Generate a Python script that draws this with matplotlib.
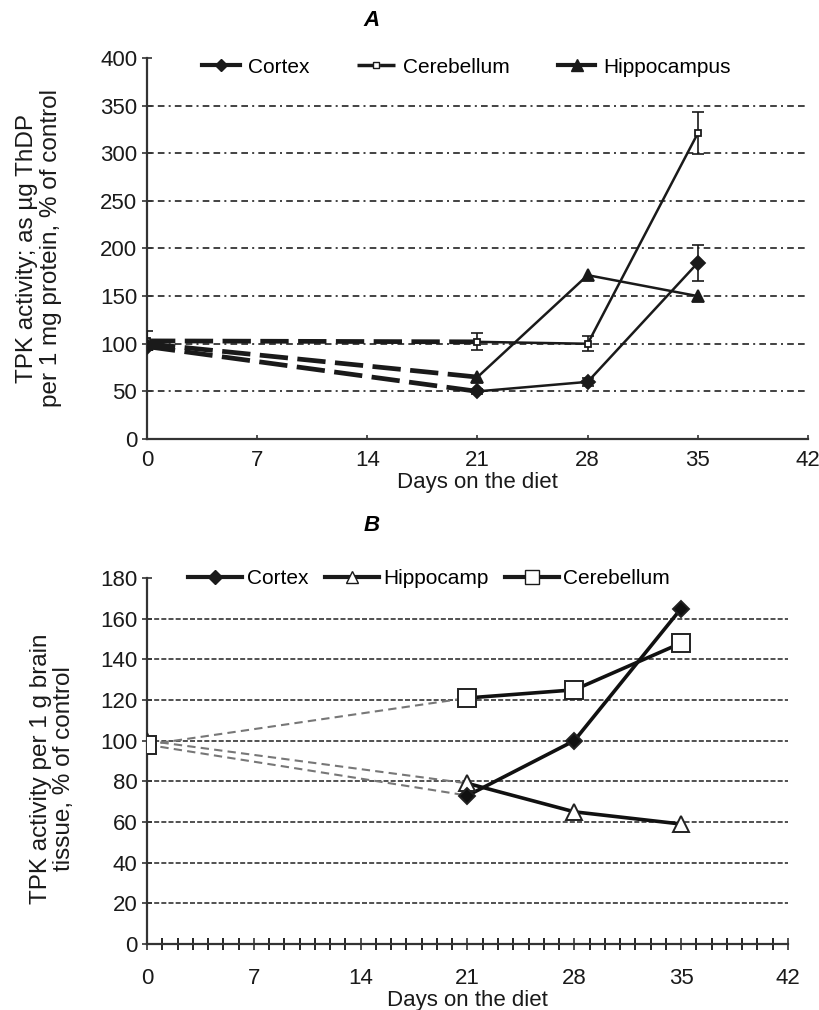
import matplotlib
matplotlib.use("Agg")
import matplotlib.pyplot as plt
from matplotlib.lines import Line2D
from matplotlib.ticker import MultipleLocator

plt.rcParams["font.family"] = ["Liberation Sans", "DejaVu Sans"]

DAYS = [0, 21, 28, 35]

# panel A: TPK activity per mg protein, % of control
A_CORTEX = [97, 50, 60, 185]
A_CORTEX_ERR = [4, 3, 4, 19]
A_CEREB = [103, 102, 100, 321]
A_CEREB_ERR = [10, 9, 8, 22]
A_HIPPO = [100, 65, 172, 150]

# panel B: TPK activity per g brain tissue, % of control
B_CORTEX = [98, 73, 100, 165]
B_HIPPO = [100, 79, 65, 59]
B_CEREB = [98, 121, 125, 148]

X_TICKS = [0, 7, 14, 21, 28, 35, 42]
INK = "#1a1a1a"

fig = plt.figure(figsize=(8.2, 10.1), dpi=100)
axA = fig.add_axes([147 / 820, 1 - 439 / 1010, (808 - 147) / 820, (439 - 58) / 1010])
axB = fig.add_axes([147 / 820, 1 - 944 / 1010, (788 - 147) / 820, (944 - 578) / 1010])


def style_axes(ax, ymax, ystep, grid_dash, grid_color, xpad, lpad):
    ax.set_xlim(0, 42)
    ax.set_ylim(0, ymax)
    ax.set_xticks(X_TICKS)
    ax.set_yticks(range(0, ymax + 1, ystep))
    for s in ("top", "right"):
        ax.spines[s].set_visible(False)
    for s in ("left", "bottom"):
        ax.spines[s].set_color("#333333")
        ax.spines[s].set_linewidth(1.6)
    for y in range(ystep, ymax, ystep):
        ax.axhline(y, color=grid_color, lw=1.2, dashes=grid_dash, zorder=0)
    ax.tick_params(labelsize=16, colors="#333333", labelcolor=INK, width=1.2)
    ax.tick_params(axis="x", pad=xpad)
    ax.set_xlabel("Days on the diet", fontsize=16, labelpad=lpad, color=INK)


def two_part(ax, y, err, marker, ms, mfc, early, late):
    ax.plot(DAYS[:2], y[:2], color=INK, zorder=3, **early)
    ax.plot(DAYS[1:], y[1:], color=INK, zorder=3, **late)
    if err is not None:
        ax.errorbar(DAYS, y, yerr=err, fmt="none", ecolor=INK, elinewidth=1.2,
                    capsize=4, capthick=1.2, zorder=4)
    ax.plot(DAYS, y, ls="none", marker=marker, ms=ms, mfc=mfc, mec=INK,
            mew=1.3, zorder=5)


# ---- panel A
style_axes(axA, 400, 50, (4, 2.5, 4, 2.5, 1.2, 2.5), "#222222", 8, 1)
axA.tick_params(axis="x", direction="in", length=3)
axA.tick_params(axis="y", direction="inout", length=7)
earlyA = dict(lw=3.4, dashes=(6, 2.0))
lateA = dict(lw=1.8)
two_part(axA, A_CEREB, A_CEREB_ERR, "s", 5, "white", earlyA, lateA)
two_part(axA, A_CORTEX, A_CORTEX_ERR, "D", 7, INK, earlyA, lateA)
two_part(axA, A_HIPPO, None, "^", 8, INK, earlyA, lateA)
axA.set_ylabel("TPK activity; as µg ThDP\nper 1 mg protein, % of control",
               fontsize=17.5, color=INK, linespacing=1.15)
axA.yaxis.set_label_coords(-0.128, 0.5)
axA.set_title("A", fontsize=16, fontweight="bold", style="italic", pad=23, x=0.34)
handlesA = [
    Line2D([], [], color=INK, lw=3, marker="D", ms=6, mfc=INK, mec=INK),
    Line2D([], [], color=INK, lw=2.5, dashes=(5, 1.5), marker="s", ms=5, mfc="white", mec=INK),
    Line2D([], [], color=INK, lw=3, marker="^", ms=8, mfc=INK, mec=INK),
]
axA.legend(handlesA, ["Cortex", "Cerebellum", "Hippocampus"], ncol=3, frameon=False,
           loc="upper left", bbox_to_anchor=(0.055, 1.05), fontsize=15,
           handlelength=1.8, handletextpad=0.4, columnspacing=2.3)

# ---- panel B
style_axes(axB, 180, 20, (3, 1.3), "#333333", 13, 1)
axB.xaxis.set_minor_locator(MultipleLocator(1))
axB.tick_params(axis="x", which="both", direction="inout", length=8, width=1.2)
axB.tick_params(axis="y", direction="inout", length=7)
earlyB = dict(lw=1.5, dashes=(4, 2.5), color="#777777")
lateB = dict(lw=2.6)


def two_part_b(ax, y, marker, ms, mfc):
    ax.plot(DAYS[:2], y[:2], zorder=3, **earlyB)
    ax.plot(DAYS[1:], y[1:], color="#111111", zorder=3, **lateB)
    ax.plot(DAYS, y, ls="none", marker=marker, ms=ms, mfc=mfc, mec="#222222",
            mew=1.4, zorder=5)


two_part_b(axB, B_HIPPO, "^", 12, "white")
two_part_b(axB, B_CORTEX, "D", 8, "#111111")
two_part_b(axB, B_CEREB, "s", 13, "white")
axB.set_ylabel("TPK activity per 1 g brain\ntissue, % of control",
               fontsize=17.5, color=INK, linespacing=1.1)
axB.yaxis.set_label_coords(-0.112, 0.48)
axB.set_title("B", fontsize=16, fontweight="bold", style="italic", pad=34, x=0.35)
handlesB = [
    Line2D([], [], color=INK, lw=3, marker="D", ms=7, mfc=INK, mec=INK),
    Line2D([], [], color=INK, lw=3, marker="^", ms=9, mfc="white", mec=INK),
    Line2D([], [], color=INK, lw=3, marker="s", ms=10, mfc="white", mec=INK),
]
axB.legend(handlesB, ["Cortex", "Hippocamp", "Cerebellum"], ncol=3, frameon=False,
           loc="upper left", bbox_to_anchor=(0.035, 1.075), fontsize=15,
           handlelength=2.6, handletextpad=0.2, columnspacing=0.8)

fig.savefig("out.png", dpi=100)
